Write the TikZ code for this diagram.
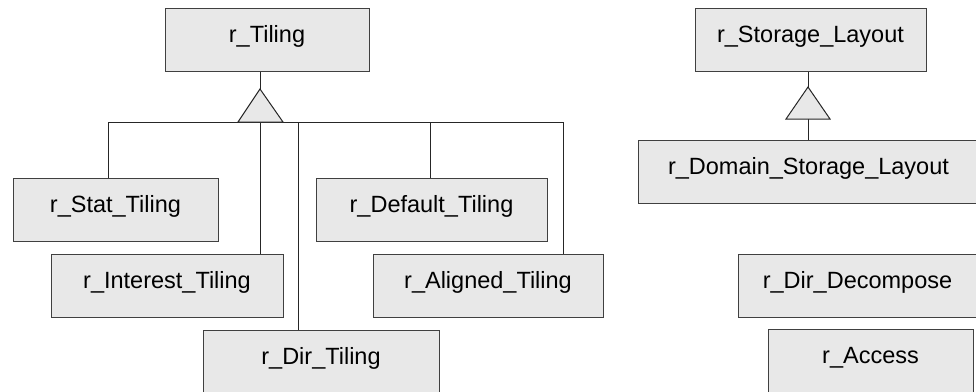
\documentclass[tikz,border=0pt]{standalone}
\usepackage{fontspec}
\setmainfont{Liberation Sans}
\usepackage{xcolor}
\usepackage{tikz}
\usetikzlibrary{calc}
\definecolor{boxfill}{HTML}{E8E8E8}
\definecolor{boxline}{HTML}{404040}
\tikzset{
  cls/.style={draw=boxline, fill=boxfill, line width=1pt, inner sep=0pt,
    text height=34pt, text depth=29pt, font=\fontsize{23.5}{28}\selectfont},
  link/.style={draw=black!85, line width=1pt},
  inherit/.style={draw=black!85, fill=boxfill, line width=1pt, line join=miter}
}

\begin{document}
\begin{tikzpicture}[x=1pt, y=-1pt]
  \useasboundingbox (0,0) rectangle (976,391);
  \clip (0,0) rectangle (976,391);

  % Tiling hierarchy
  \node[cls, minimum width=204pt] (tiling) at (267,39.5) {r\_Tiling};
  \node[cls, minimum width=205pt] (stat) at (115.5,209.5) {r\_Stat\_Tiling};
  \node[cls, minimum width=232pt] (interest) at (167,286) {r\_Interest\_Tiling};
  \node[cls, minimum width=236pt] (dir) at (321,361.5) {r\_Dir\_Tiling};
  \node[cls, minimum width=231pt] (default) at (431.5,210) {r\_Default\_Tiling};
  \node[cls, minimum width=230pt] (aligned) at (488,286) {r\_Aligned\_Tiling};

  \coordinate (tip) at (260,89);
  \coordinate (busL) at (108,122);
  \coordinate (busR) at (563,122);
  \draw[link] (tiling.south -| tip) -- (tip);
  \draw[link] (busL) -- (busR);
  \foreach \x/\n in {108/stat, 260/interest, 298/dir, 430/default, 563/aligned}{
    \path (\x,122) coordinate (drop);
    \draw[link] (drop) -- (drop |- \n.north);
  }
  \draw[inherit] (tip) -- (238,122) -- (283,122) -- cycle;

  % Storage layout
  \node[cls, minimum width=231pt] (storage) at (810.5,39.5) {r\_Storage\_Layout};
  \node[cls, minimum width=341pt] (domain) at (808.5,172) {r\_Domain\_Storage\_Layout};
  \coordinate (stip) at (808,87);
  \coordinate (sbase) at (808,119);
  \draw[link] (storage.south -| stip) -- (stip);
  \draw[link] (sbase) -- (sbase |- domain.north);
  \draw[inherit] (stip) -- (786,119) -- (830,119) -- cycle;

  % Other classes
  \node[cls, minimum width=239pt] (decompose) at (857.5,285.5) {r\_Dir\_Decompose};
  \node[cls, minimum width=205pt] (access) at (870.5,360.5) {r\_Access};
\end{tikzpicture}
\end{document}
